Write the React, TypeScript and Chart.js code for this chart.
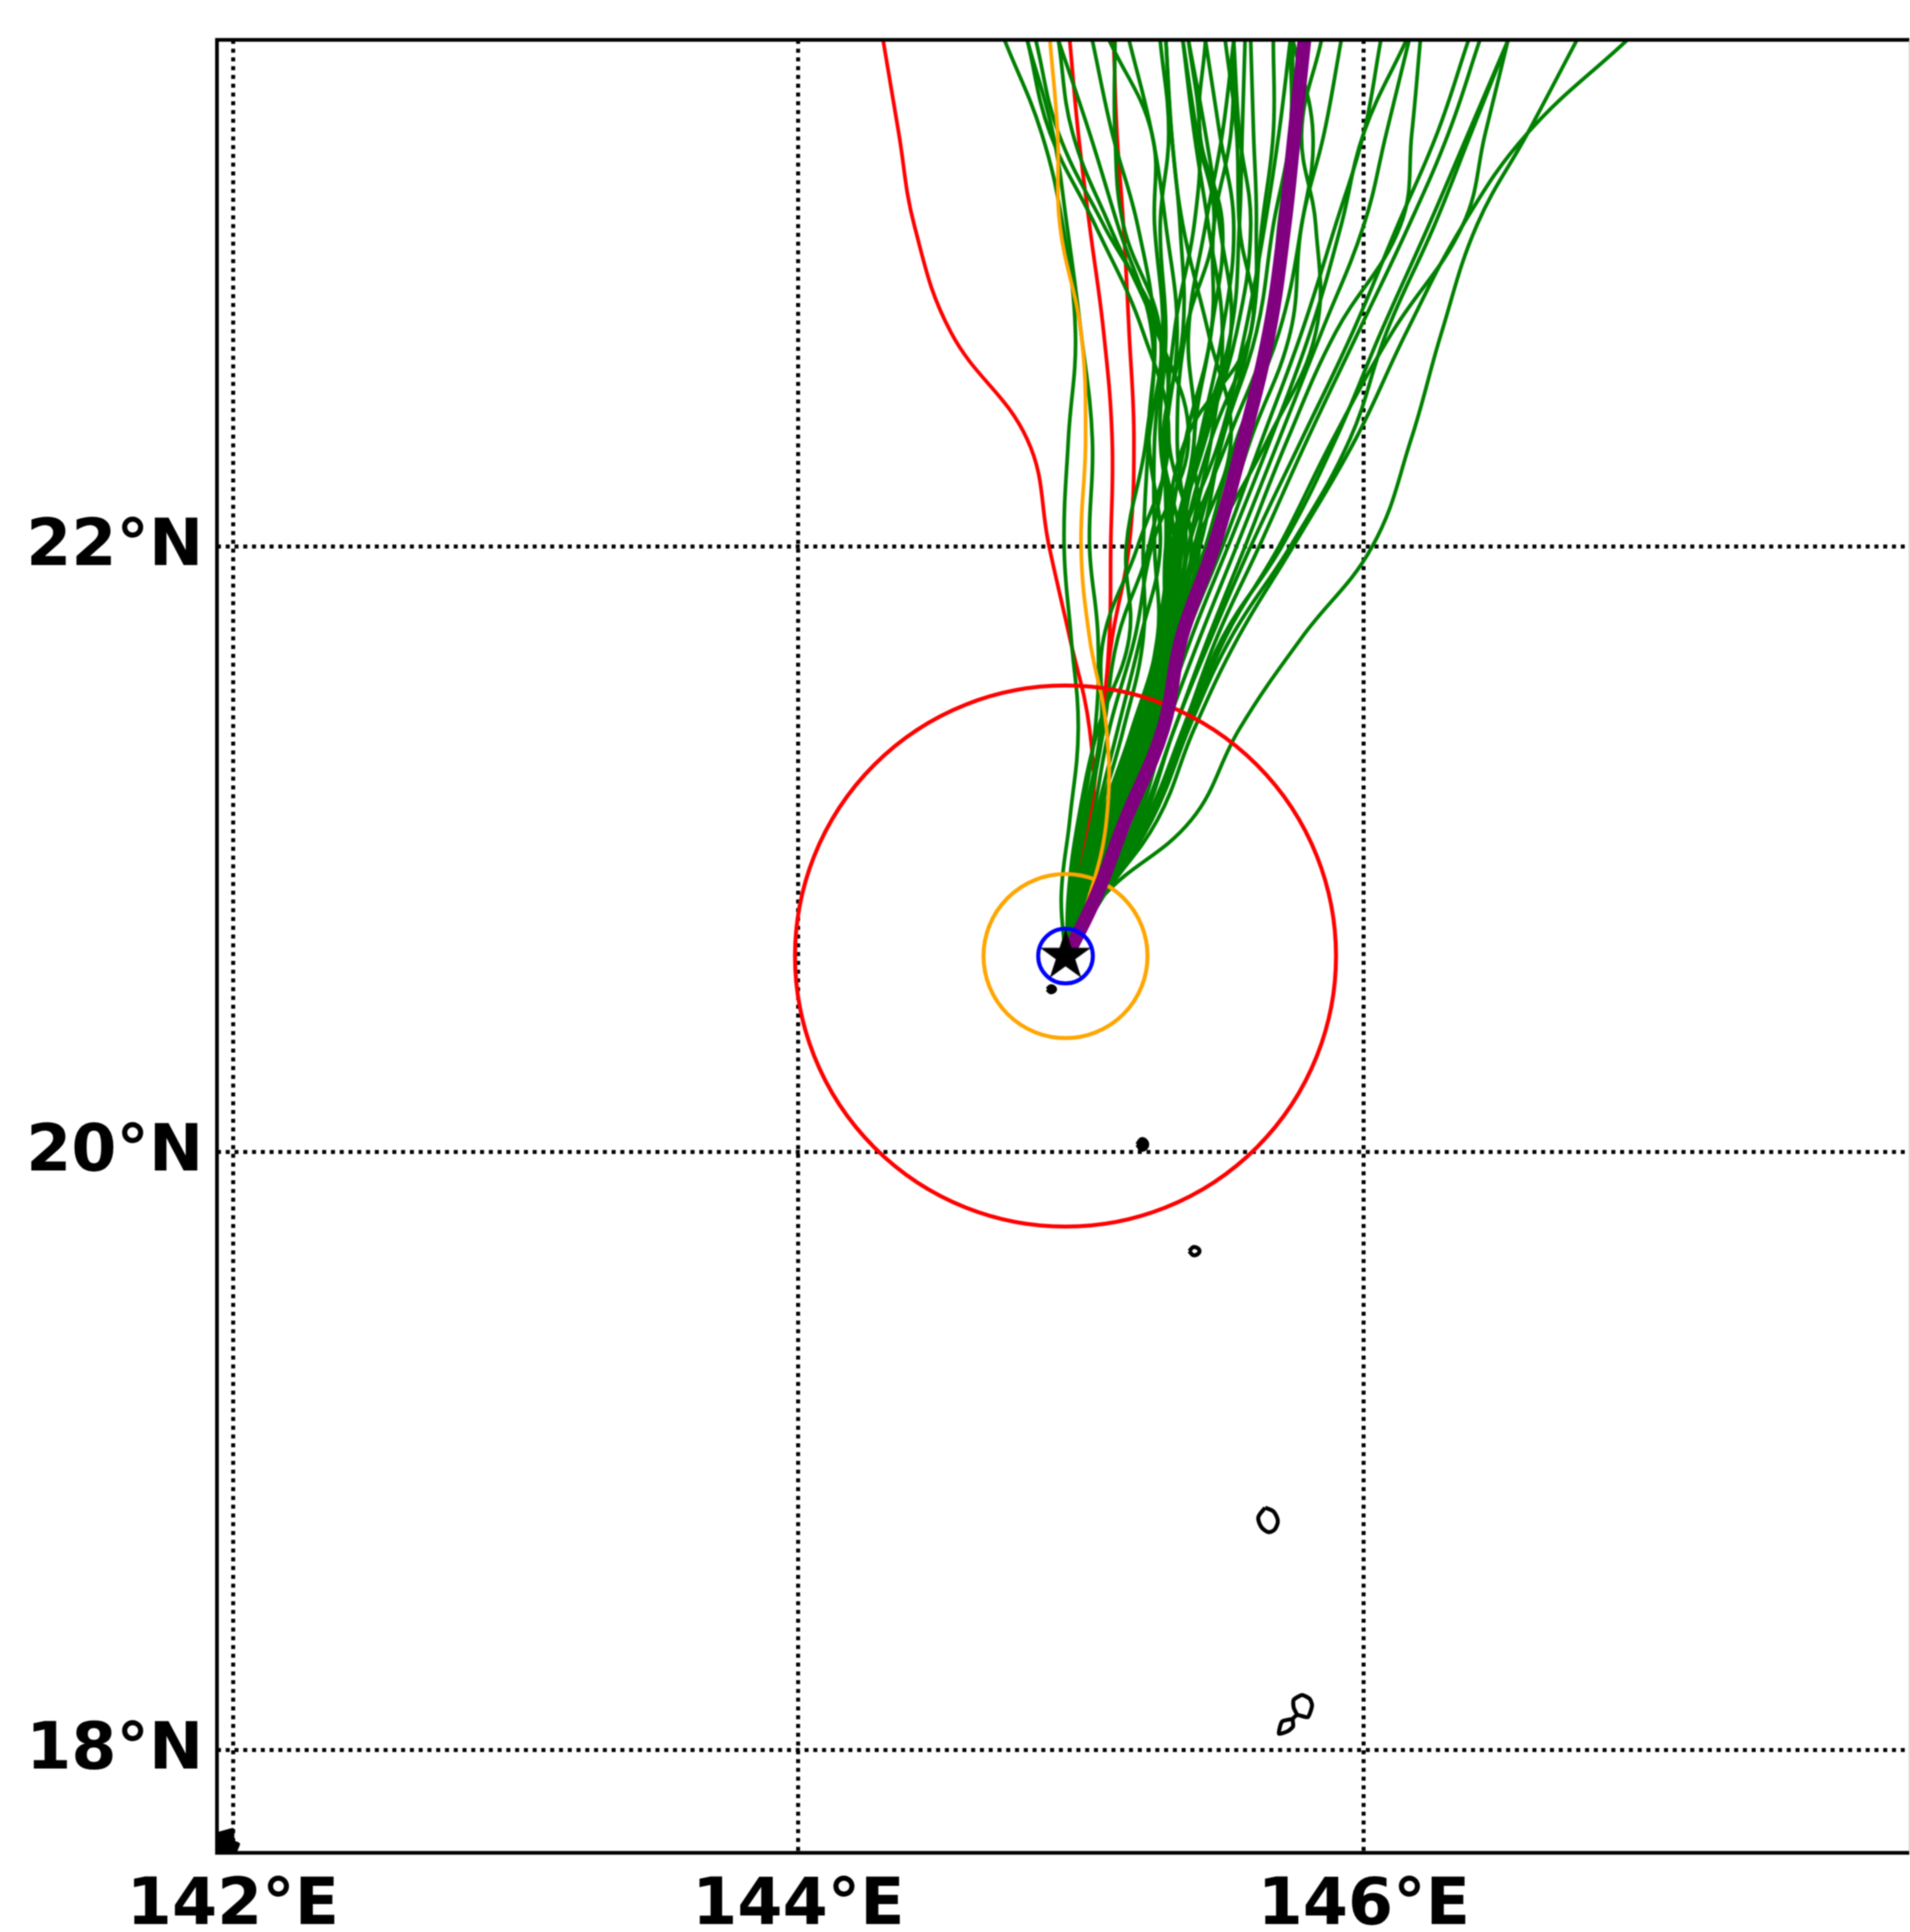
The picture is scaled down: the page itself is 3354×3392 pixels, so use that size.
import React, { useEffect, useRef } from "react";
import { Chart, registerables } from "chart.js";

Chart.register(...registerables);

const latTicks = [18, 20, 22];
const lonTicks = [142, 144, 146];
const lonBounds = [141.9436, 147.93];
const latBounds = [17.653, 23.652];

const stormCenter = { lon: 144.945, lat: 20.65 };

// every track is read at these latitudes
const trackLats = [20.65, 20.85, 21.1, 21.4, 21.7, 22.0, 22.35, 22.7, 23.05, 23.35, 23.65];

const meanTrack = [144.95, 145.054, 145.157, 145.29, 145.355, 145.47, 145.575, 145.665, 145.72, 145.755, 145.79];
const redTrackA = [144.95, 144.98, 145.04, 145.03, 144.96, 144.887, 144.81, 144.54, 144.41, 144.355, 144.30];
const redTrackB = [144.95, 144.98, 145.02, 145.07, 145.10, 145.105, 145.11, 145.08, 145.03, 144.99, 144.96];
const redTrackC = [144.95, 144.98, 145.03, 145.07, 145.11, 145.17, 145.187, 145.17, 145.15, 145.127, 145.115];
const orangeTrack = [144.95, 145.03, 145.09, 145.09, 145.03, 145.0, 145.016, 145.0, 144.925, 144.917, 144.89];

const greenTracks = [
  [144.95, 145.08, 145.27, 145.40, 145.555, 145.75, 145.97, 146.15, 146.35, 146.58, 146.93],
  [144.95, 145.08, 145.39, 145.56, 145.78, 146.03, 146.167, 146.275, 146.40, 146.58, 146.753],
  [144.95, 145.08, 145.25, 145.38, 145.53, 145.74, 145.95, 146.08, 146.25, 146.38, 146.51],
  [144.95, 145.08, 145.24, 145.37, 145.50, 145.71, 145.90, 146.06, 146.23, 146.37, 146.51],
  [144.95, 145.08, 145.25, 145.38, 145.51, 145.70, 145.89, 146.10, 146.35, 146.43, 146.51],
  [144.95, 145.07, 145.23, 145.36, 145.48, 145.63, 145.80, 145.98, 146.16, 146.30, 146.41],
  [144.95, 145.07, 145.22, 145.33, 145.46, 145.60, 145.78, 145.96, 146.12, 146.26, 146.37],
  [144.95, 145.07, 145.21, 145.33, 145.45, 145.58, 145.73, 145.90, 146.13, 146.17, 146.20],
  [144.95, 145.06, 145.20, 145.30, 145.42, 145.55, 145.70, 145.85, 146.00, 146.08, 146.16],
  [144.95, 145.06, 145.19, 145.28, 145.39, 145.52, 145.67, 145.81, 145.92, 146.00, 146.15],
  [144.95, 145.06, 145.17, 145.27, 145.37, 145.50, 145.64, 145.78, 145.90, 146.00, 146.06],
  [144.95, 145.05, 145.16, 145.26, 145.36, 145.48, 145.60, 145.74, 145.78, 145.86, 145.92],
  [144.95, 145.05, 145.15, 145.25, 145.34, 145.46, 145.66, 145.83, 145.83, 145.78, 145.85],
  [144.95, 145.04, 145.14, 145.24, 145.33, 145.44, 145.55, 145.70, 145.78, 145.82, 145.75],
  [144.95, 145.04, 145.13, 145.22, 145.30, 145.42, 145.50, 145.62, 145.68, 145.74, 145.74],
  [144.95, 145.04, 145.13, 145.23, 145.32, 145.40, 145.50, 145.60, 145.64, 145.68, 145.68],
  [144.95, 145.03, 145.13, 145.25, 145.33, 145.36, 145.46, 145.60, 145.62, 145.61, 145.60],
  [144.95, 145.03, 145.12, 145.24, 145.31, 145.33, 145.42, 145.53, 145.56, 145.57, 145.58],
  [144.95, 145.03, 145.12, 145.23, 145.30, 145.31, 145.37, 145.46, 145.47, 145.53, 145.54],
  [144.95, 145.02, 145.11, 145.22, 145.29, 145.30, 145.37, 145.60, 145.56, 145.55, 145.51],
  [144.95, 145.02, 145.10, 145.23, 145.32, 145.42, 145.40, 145.46, 145.50, 145.42, 145.44],
  [144.95, 145.02, 145.10, 145.23, 145.31, 145.39, 145.31, 145.33, 145.40, 145.42, 145.38],
  [144.95, 145.02, 145.09, 145.22, 145.31, 145.37, 145.34, 145.37, 145.47, 145.41, 145.36],
  [144.95, 145.01, 145.09, 145.21, 145.30, 145.35, 145.29, 145.36, 145.35, 145.32, 145.30],
  [144.95, 145.01, 145.09, 145.20, 145.29, 145.33, 145.28, 145.30, 145.28, 145.31, 145.28],
  [144.95, 145.00, 145.08, 145.19, 145.28, 145.30, 145.30, 145.34, 145.30, 145.25, 145.17],
  [144.95, 145.00, 145.07, 145.18, 145.27, 145.26, 145.26, 145.29, 145.26, 145.25, 145.10],
  [144.95, 145.00, 145.06, 145.15, 145.22, 145.22, 145.24, 145.28, 145.15, 145.12, 145.12],
  [144.95, 144.99, 145.05, 145.13, 145.21, 145.28, 145.24, 145.26, 145.20, 145.11, 145.04],
  [144.95, 144.98, 145.04, 145.10, 145.19, 145.25, 145.38, 145.27, 145.10, 144.97, 144.92],
  [144.95, 144.97, 145.02, 145.08, 145.13, 145.24, 145.30, 145.28, 145.08, 144.92, 144.84],
  [144.95, 144.965, 145.01, 145.07, 145.08, 145.20, 145.31, 145.22, 145.05, 144.89, 144.81],
  [144.945, 144.93, 144.96, 144.99, 144.965, 144.94, 144.955, 144.98, 144.935, 144.86, 144.73],
  [144.95, 144.96, 145.00, 145.05, 145.06, 145.03, 145.04, 145.0, 144.95, 144.90, 144.81],
  [144.95, 144.955, 144.99, 145.06, 145.17, 145.16, 145.23, 145.25, 145.13, 145.03, 144.92],
  [144.95, 145.03, 145.13, 145.27, 145.33, 145.38, 145.46, 145.50, 145.45, 145.40, 145.36],
  [144.95, 145.03, 145.14, 145.28, 145.34, 145.41, 145.53, 145.45, 145.36, 145.32, 145.30],
  [144.95, 145.02, 145.11, 145.22, 145.28, 145.33, 145.44, 145.55, 145.60, 145.56, 145.54],
  [144.95, 145.02, 145.12, 145.24, 145.30, 145.35, 145.49, 145.58, 145.65, 145.70, 145.74],
  [144.95, 145.01, 145.10, 145.21, 145.27, 145.32, 145.40, 145.38, 145.44, 145.50, 145.54],
  [144.95, 145.02, 145.13, 145.25, 145.31, 145.35, 145.42, 145.50, 145.54, 145.49, 145.44],
  [144.95, 145.02, 145.12, 145.23, 145.29, 145.34, 145.43, 145.53, 145.49, 145.44, 145.38],
  [144.95, 145.03, 145.13, 145.26, 145.33, 145.38, 145.52, 145.66, 145.70, 145.74, 145.75],
];

const cornerLons = [141.946, 141.946, 141.998, 141.998, 141.988, 142.018, 142.008, 141.946];
const cornerLats = [17.659, 17.716, 17.730, 17.707, 17.694, 17.682, 17.659, 17.659];
const dotALons = [144.880, 144.894, 144.908, 144.894, 144.880];
const dotALats = [20.540, 20.550, 20.540, 20.530, 20.540];
const dotBLons = [145.198, 145.216, 145.234, 145.216, 145.198];
const dotBLats = [20.025, 20.043, 20.025, 20.007, 20.025];
const ringCLons = [145.382, 145.40, 145.419, 145.40, 145.382];
const ringCLats = [19.670, 19.684, 19.670, 19.656, 19.670];
const ringDLons = [145.651, 145.681, 145.696, 145.684, 145.662, 145.637, 145.627, 145.651];
const ringDLats = [18.813, 18.800, 18.768, 18.739, 18.731, 18.749, 18.781, 18.813];
const islandLons = [145.765, 145.752, 145.752, 145.782, 145.809, 145.817, 145.802, 145.765, 145.749, 145.750, 145.732, 145.700, 145.711, 145.749];
const islandLats = [18.117, 18.142, 18.168, 18.184, 18.171, 18.149, 18.110, 18.117, 18.104, 18.079, 18.063, 18.054, 18.095, 18.104];

const merc = (lat: number) =>
  (Math.log(Math.tan(Math.PI / 4 + (lat * Math.PI) / 360)) * 180) / Math.PI;

const pairs = (lons: number[], lats: number[]) =>
  lons.map((lon, i) => ({ x: lon, y: merc(lats[i]) }));

const trackData = (lons: number[]) => pairs(lons, trackLats);

function track(lons: number[], color: string, width: number, order: number) {
  return {
    data: trackData(lons),
    showLine: true,
    borderColor: color,
    borderWidth: width,
    tension: 0.4,
    pointRadius: 0,
    borderCapStyle: "round",
    borderJoinStyle: "round",
    order,
  };
}

function coast(lons: number[], lats: number[], solid: boolean, tension: number) {
  return {
    data: pairs(lons, lats),
    showLine: true,
    borderColor: "#000000",
    borderWidth: 7,
    tension,
    pointRadius: 0,
    fill: solid ? "shape" : false,
    backgroundColor: "#000000",
    borderJoinStyle: "round",
    order: 9,
  };
}

function ring(color: string, radius: number, order: number) {
  return {
    data: [{ x: stormCenter.lon, y: merc(stormCenter.lat) }],
    showLine: false,
    pointRadius: radius,
    pointBackgroundColor: "rgba(0,0,0,0)",
    pointBorderColor: color,
    pointBorderWidth: 7,
    order,
  };
}

function starImage(radius: number) {
  const size = radius * 2 + 4;
  const c = document.createElement("canvas");
  c.width = size;
  c.height = size;
  const g = c.getContext("2d")!;
  g.fillStyle = "#000000";
  g.beginPath();
  for (let i = 0; i < 10; i++) {
    const r = i % 2 === 0 ? radius : radius * 0.382;
    const a = -Math.PI / 2 + (i * Math.PI) / 5;
    const px = size / 2 + r * Math.cos(a);
    const py = size / 2 + r * Math.sin(a);
    if (i === 0) g.moveTo(px, py);
    else g.lineTo(px, py);
  }
  g.closePath();
  g.fill();
  return c;
}

const framePlugin = {
  id: "frame",
  afterDraw(chart: any) {
    const { ctx, chartArea: a } = chart;
    ctx.save();
    ctx.strokeStyle = "#000000";
    ctx.lineWidth = 6.5;
    ctx.beginPath();
    ctx.moveTo(a.right, a.top);
    ctx.lineTo(a.left, a.top);
    ctx.lineTo(a.left, a.bottom);
    ctx.lineTo(a.right, a.bottom);
    ctx.stroke();
    ctx.strokeStyle = "#b0b0b0";
    ctx.lineWidth = 1.5;
    ctx.beginPath();
    ctx.moveTo(a.right, a.top);
    ctx.lineTo(a.right, a.bottom);
    ctx.stroke();
    ctx.restore();
  },
};

const tickFont = { family: "'DejaVu Sans'", size: 114, weight: "bold" as const };

export default function App() {
  const ref = useRef<HTMLCanvasElement>(null);

  useEffect(() => {
    document.body.style.margin = "0";
    document.body.style.background = "#ffffff";
    const datasets: any[] = [
      {
        data: [{ x: stormCenter.lon, y: merc(stormCenter.lat) }],
        showLine: false,
        pointStyle: starImage(47),
        pointRadius: 47,
        order: 0,
      },
      ring("#0000ff", 48, 1),
      track(meanTrack, "#800080", 24, 2),
      ring("#ffa500", 144, 3),
      ring("#ff0000", 475, 3),
      track(orangeTrack, "#ffa500", 6.5, 4),
      ...greenTracks.map((t) => track(t, "#008000", 6.5, 5)),
      track(redTrackB, "#ff0000", 6.5, 6),
      track(redTrackA, "#ff0000", 6.5, 6),
      track(redTrackC, "#ff0000", 6.5, 6),
      coast(cornerLons, cornerLats, true, 0),
      coast(dotALons, dotALats, true, 0.5),
      coast(dotBLons, dotBLats, true, 0.5),
      coast(ringCLons, ringCLats, false, 0.5),
      coast(ringDLons, ringDLats, false, 0.3),
      coast(islandLons, islandLats, false, 0.2),
    ];

    const chart = new Chart(ref.current!, {
      type: "scatter",
      data: { datasets },
      plugins: [framePlugin],
      options: {
        animation: false,
        responsive: false,
        devicePixelRatio: 1,
        events: [],
        layout: { autoPadding: false, padding: { top: 70, right: 1, left: 0, bottom: 0 } },
        plugins: { legend: { display: false }, tooltip: { enabled: false } },
        scales: {
          x: {
            type: "linear",
            min: lonBounds[0],
            max: lonBounds[1],
            z: 1,
            afterBuildTicks: (s: any) => {
              s.ticks = lonTicks.map((v) => ({ value: v }));
            },
            afterFit: (s: any) => {
              s.height = 139;
              s.paddingLeft = 0;
              s.paddingRight = 0;
            },
            grid: { color: "#000000", lineWidth: 7, drawTicks: false },
            border: { display: false, dash: [7, 8.4] },
            ticks: {
              autoSkip: false,
              maxRotation: 0,
              padding: 27,
              color: "#000000",
              font: tickFont,
              callback: (v: any) => `${v}°E`,
            },
          },
          y: {
            type: "linear",
            min: merc(latBounds[0]),
            max: merc(latBounds[1]),
            z: 1,
            afterBuildTicks: (s: any) => {
              s.ticks = latTicks.map((v) => ({ value: merc(v) }));
            },
            afterFit: (s: any) => {
              s.width = 381;
              s.paddingTop = 0;
              s.paddingBottom = 0;
            },
            grid: { color: "#000000", lineWidth: 7, drawTicks: false },
            border: { display: false, dash: [7, 8.4] },
            ticks: {
              autoSkip: false,
              padding: 24,
              labelOffset: 3,
              color: "#000000",
              font: tickFont,
              callback: (v: any) => {
                const match = latTicks.find((l) => Math.abs(merc(l) - v) < 1e-6);
                return `${match}°N`;
              },
            },
          },
        },
      },
    } as any);
    return () => chart.destroy();
  }, []);

  return (
    <canvas
      ref={ref}
      width={3354}
      height={3392}
      style={{ display: "block", width: 3354, height: 3392, filter: "blur(1px)" }}
    />
  );
}
